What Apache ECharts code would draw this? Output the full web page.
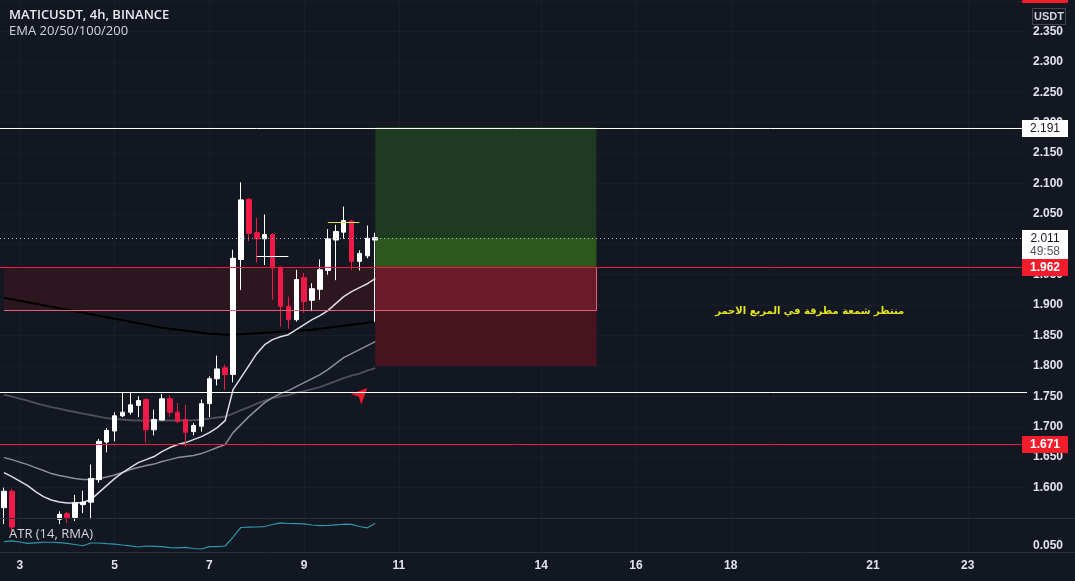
<!DOCTYPE html>
<html><head><meta charset="utf-8">
<script src="https://cdn.jsdelivr.net/npm/echarts@6.0.0/dist/echarts.min.js"></script>
<style>html,body{margin:0;padding:0;background:#131722;}#c{width:1075px;height:581px;}</style>
</head><body><div id="c"></div>
<script>
// ---- time slots (4h candles) ----
const startDay = 2, startHour = 16, slotCount = 130;
const tickDays = [3, 5, 7, 9, 11, 14, 16, 18, 21, 23];
const categories = [];
for (let k = 0; k < slotCount; k++) {
  const h = startHour + 4 * k;
  categories.push((startDay + Math.floor(h / 24)) + ' ' + String(h % 24).padStart(2, '0') + ':00');
}
// ---- candles [open, close, low, high] ----
const candles = [
  [1.567,1.594,1.540,1.600],[1.594,1.535,1.525,1.598],[1.535,1.522,1.505,1.545],[1.522,1.530,1.510,1.542],
  [1.530,1.518,1.500,1.540],[1.518,1.526,1.505,1.538],[1.526,1.548,1.515,1.549],[1.548,1.556,1.540,1.561],
  [1.557,1.551,1.542,1.560],[1.551,1.575,1.545,1.588],[1.572,1.576,1.558,1.595],[1.576,1.615,1.548,1.638],
  [1.613,1.676,1.608,1.680],[1.675,1.694,1.658,1.698],[1.693,1.718,1.676,1.724],[1.718,1.724,1.716,1.757],
  [1.724,1.736,1.720,1.757],[1.735,1.743,1.716,1.750],[1.745,1.695,1.674,1.747],[1.695,1.712,1.686,1.728],
  [1.711,1.746,1.711,1.754],[1.746,1.724,1.716,1.752],[1.724,1.709,1.706,1.739],[1.712,1.691,1.668,1.736],
  [1.692,1.702,1.686,1.706],[1.701,1.738,1.692,1.745],[1.738,1.779,1.716,1.783],[1.779,1.795,1.768,1.817],
  [1.797,1.786,1.761,1.802],[1.786,1.977,1.773,1.991],[1.975,2.073,1.925,2.102],[2.074,2.018,2.005,2.076],
  [2.019,2.009,1.970,2.043],[2.009,2.016,1.966,2.049],[2.016,1.961,1.909,2.018],[1.961,1.898,1.865,1.964],
  [1.898,1.876,1.861,1.914],[1.876,1.942,1.873,1.958],[1.945,1.906,1.887,1.953],[1.908,1.927,1.890,1.936],
  [1.926,1.958,1.909,1.975],[1.957,2.009,1.950,2.025],[2.007,2.021,1.941,2.032],[2.020,2.039,2.009,2.062],
  [2.038,1.972,1.958,2.040],[1.972,1.985,1.957,1.990],[1.981,2.010,1.977,2.031],[2.007,2.011,1.872,2.019]
];
const ema20 = [1.6247,1.6181,1.6107,1.6033,1.5935,1.5852,1.5795,1.5762,1.5746,1.5746,1.5754,1.5803,1.5918,1.6033,1.6148,1.6247,1.6329,1.6411,1.6460,1.6510,1.6592,1.6658,1.6707,1.6740,1.6789,1.6838,1.6904,1.6986,1.7101,1.7611,1.7808,1.8005,1.8202,1.8350,1.8432,1.8481,1.8514,1.8596,1.8679,1.8761,1.8827,1.8909,1.9024,1.9139,1.9221,1.9287,1.9352,1.9434];
const ema50 = [1.6493,1.6460,1.6419,1.6378,1.6329,1.6280,1.6230,1.6198,1.6173,1.6148,1.6132,1.6132,1.6148,1.6173,1.6206,1.6247,1.6296,1.6329,1.6362,1.6386,1.6428,1.6460,1.6493,1.6510,1.6526,1.6559,1.6608,1.6658,1.6707,1.6904,1.7035,1.7167,1.7282,1.7397,1.7479,1.7545,1.7594,1.7660,1.7726,1.7791,1.7857,1.7939,1.8038,1.8136,1.8202,1.8268,1.8334,1.8399];
const ema100 = [1.7528,1.7496,1.7463,1.7430,1.7389,1.7356,1.7323,1.7298,1.7266,1.7241,1.7216,1.7192,1.7167,1.7142,1.7126,1.7118,1.7109,1.7101,1.7101,1.7101,1.7101,1.7101,1.7101,1.7101,1.7109,1.7118,1.7134,1.7151,1.7167,1.7216,1.7274,1.7323,1.7381,1.7430,1.7471,1.7496,1.7520,1.7561,1.7586,1.7619,1.7652,1.7701,1.7750,1.7800,1.7841,1.7874,1.7923,1.7964];
const ema200 = [1.9122,1.9098,1.9073,1.9048,1.9024,1.8999,1.8974,1.8950,1.8925,1.8900,1.8876,1.8851,1.8827,1.8802,1.8777,1.8753,1.8728,1.8703,1.8679,1.8654,1.8629,1.8613,1.8596,1.8580,1.8564,1.8547,1.8531,1.8523,1.8514,1.8514,1.8523,1.8531,1.8539,1.8547,1.8555,1.8564,1.8572,1.8580,1.8588,1.8596,1.8613,1.8629,1.8646,1.8662,1.8679,1.8695,1.8711,1.8728];
const atr = [0.0561,0.0575,0.0556,0.0536,0.0544,0.0552,0.0552,0.0547,0.0536,0.0517,0.0498,0.0541,0.0541,0.0531,0.0522,0.0509,0.0497,0.0478,0.0494,0.0489,0.0483,0.0469,0.0463,0.0473,0.0455,0.0447,0.0483,0.0483,0.0494,0.0634,0.0783,0.0788,0.0791,0.0798,0.0830,0.0856,0.0845,0.0844,0.0838,0.0822,0.0811,0.0814,0.0825,0.0834,0.0831,0.0798,0.0778,0.0848];
// ---- drawings / levels ----
const levelTop = 2.191, levelCurrent = 2.011, levelEntry = 1.962, levelWhite = 1.757, levelRed = 1.671;
const boxBottom = 1.891, stopLevel = 1.800, targetLevel = 2.193;
const posStart = 47, posEnd = 75;
const noteText = 'منتظر شمعة مطرقة في المربع الاحمر';
const priceTicks = { min: 1.55, max: 2.40, interval: 0.05 };

const isTick = v => { const p = v.split(' '); return p[1] === '00:00' && tickDays.indexOf(+p[0]) >= 0; };
const AX = '#e0e3eb', GRIDC = '#1a1e29';
const FONT = 'Liberation Sans';

const chart = echarts.init(document.getElementById('c'), null, { renderer: 'canvas' });
const seg = (a, b, color, type) => [{ coord: a, lineStyle: { color: color, width: 1, type: type || 'solid' } }, { coord: b }];
const area = (x0, y0, x1, y1, color) => [{ coord: [x0, y0], itemStyle: { color: color } }, { coord: [x1, y1] }];

const option = {
  backgroundColor: '#131722',
  animation: false,
  grid: [
    { left: -3, right: 48, top: 1, height: 517 },
    { left: -3, right: 48, top: 520, height: 32 }
  ],
  xAxis: [
    { type: 'category', gridIndex: 0, data: categories, axisLine: { show: false }, axisTick: { show: false }, axisLabel: { show: false }, splitLine: { show: false } },
    { type: 'category', gridIndex: 1, data: categories, axisLine: { show: false }, axisTick: { show: false }, splitLine: { show: false },
      axisLabel: { interval: (i, v) => isTick(v), formatter: v => v.split(' ')[0], color: AX, fontSize: 12, fontWeight: 'bold', fontFamily: FONT, margin: 8 } }
  ],
  yAxis: [
    { type: 'value', gridIndex: 0, position: 'right', min: priceTicks.min, max: priceTicks.max, interval: priceTicks.interval,
      axisLine: { show: false }, axisTick: { show: false },
      splitLine: { show: true, lineStyle: { color: GRIDC, width: 1 } },
      axisLabel: { showMinLabel: false, showMaxLabel: false, formatter: v => v.toFixed(3), color: AX, fontSize: 12, fontWeight: 'bold', fontFamily: FONT, margin: 6 } },
    { type: 'value', gridIndex: 1, position: 'right', min: 0.04, max: 0.09, interval: 0.01,
      axisLine: { show: false }, axisTick: { show: false }, splitLine: { show: false },
      axisLabel: { formatter: v => Math.abs(v - 0.05) < 1e-6 ? '0.050' : '', color: AX, fontSize: 12, fontWeight: 'bold', fontFamily: FONT, margin: 6 } }
  ],
  series: [
    { type: 'line', name: 'vgrid', xAxisIndex: 0, yAxisIndex: 0, data: [], z: 0, silent: true,
      markLine: { z: 0, silent: true, symbol: ['none', 'none'], label: { show: false }, lineStyle: { color: GRIDC, width: 1, type: 'solid' },
        data: tickDays.map(d => ({ xAxis: d + ' 00:00' })) } },
    { type: 'line', name: 'vgrid2', xAxisIndex: 1, yAxisIndex: 1, data: [], z: 0, silent: true,
      markLine: { z: 0, silent: true, symbol: ['none', 'none'], label: { show: false }, lineStyle: { color: GRIDC, width: 1, type: 'solid' },
        data: tickDays.map(d => ({ xAxis: d + ' 00:00' })) } },
    { type: 'line', name: 'zones', xAxisIndex: 0, yAxisIndex: 0, data: [], z: 1, silent: true,
      markArea: { z: 1, silent: true, label: { show: false },
        data: [
          area(0, levelEntry, posStart, boxBottom, '#2d1620'),
          area(posStart, levelEntry, posEnd, boxBottom, '#6a1a28'),
          area(posStart, boxBottom, posEnd, stopLevel, '#48141f'),
          area(posStart, levelEntry, posEnd, levelCurrent, '#2c581d'),
          area(posStart, levelCurrent, posEnd, targetLevel, '#1e3b21')
        ] } },
    { type: 'line', name: 'EMA200', data: ema200, symbol: 'none', lineStyle: { color: '#000000', width: 2 }, z: 2, silent: true },
    { type: 'line', name: 'EMA100', data: ema100, symbol: 'none', lineStyle: { color: '#4d5059', width: 2 }, z: 2, silent: true },
    { type: 'line', name: 'EMA50', data: ema50, symbol: 'none', lineStyle: { color: '#8b8e97', width: 1.5 }, z: 2, silent: true },
    { type: 'line', name: 'EMA20', data: ema20, symbol: 'none', lineStyle: { color: '#dcdde2', width: 1.5 }, z: 2, silent: true },
    { type: 'candlestick', name: 'MATICUSDT', data: candles, barWidth: 5, z: 3, silent: true,
      itemStyle: { color: '#ffffff', color0: '#ef1a47', borderColor: '#ffffff', borderColor0: '#ef1a47', borderWidth: 1 } },
    { type: 'line', name: 'drawings', xAxisIndex: 0, yAxisIndex: 0, data: [], z: 4, silent: true,
      markLine: { z: 4, silent: true, symbol: ['none', 'none'], label: { show: false },
        data: [
          seg([0, levelEntry], [posEnd, levelEntry], '#e0627a'),
          seg([0, boxBottom], [posEnd, boxBottom], '#e0627a'),
          seg([posEnd, boxBottom], [posEnd, levelEntry], '#e0627a'),
          seg([32, 1.980], [36, 1.980], '#ffffff'),
          seg([41, 2.036], [45, 2.036], '#d8e65a')
        ] },
      markPoint: { z: 5, silent: true,
        data: [
          { coord: [46, 1.7637], symbol: 'arrow', symbolSize: [11, 16], symbolRotate: -45, itemStyle: { color: '#f21c2a' }, label: { show: false } },
          { coord: [102, 1.8903], symbol: 'rect', symbolSize: 1, itemStyle: { color: 'rgba(0,0,0,0)' },
            label: { show: true, position: 'inside', formatter: noteText, color: '#e3e31e', fontSize: 10, fontWeight: 'bold', fontFamily: 'DejaVu Sans' } }
        ] } },
    { type: 'line', name: 'ATR', xAxisIndex: 1, yAxisIndex: 1, data: atr, symbol: 'none', lineStyle: { color: '#2b98b0', width: 1.2 }, z: 3, silent: true }
  ]
};
chart.setOption(option);

// horizontal levels and price tags, placed through the y scale
const py = v => chart.convertToPixel({ yAxisIndex: 0 }, v);
const PR = 1027, BX = 1022, BW = 46;
function hline(v, color, dash) {
  const y = Math.round(py(v)) + 0.5;
  return { type: 'line', z: 20, shape: { x1: 0, y1: y, x2: PR, y2: y }, style: { stroke: color, lineWidth: 1, lineDash: dash || null } };
}
function tag(v, text, bg, fg, bold) {
  const y = Math.round(py(v));
  return { type: 'group', z: 100, children: [
    { type: 'rect', z: 100, shape: { x: BX, y: y - 8, width: BW, height: 17 }, style: { fill: bg } },
    { type: 'text', z: 101, style: { text: text, x: BX + BW / 2, y: y + 0.5, align: 'center', verticalAlign: 'middle', fill: fg, font: (bold ? 'bold ' : '') + '12px "' + FONT + '"' } }
  ] };
}
const yc = Math.round(py(levelCurrent));
const graphics = [
  hline(levelTop, '#ffffff'),
  hline(levelCurrent, '#b2b5be', [1, 3]),
  hline(levelEntry, '#f0163c'),
  hline(levelWhite, '#ffffff'),
  hline(levelRed, '#f0163c'),
  { type: 'line', z: 50, shape: { x1: 0, y1: 518.5, x2: 1075, y2: 518.5 }, style: { stroke: '#2a2e39', lineWidth: 1 } },
  { type: 'line', z: 50, shape: { x1: 0, y1: 552.5, x2: 1075, y2: 552.5 }, style: { stroke: '#2a2e39', lineWidth: 1 } },
  { type: 'text', z: 100, left: 9, top: 9, style: { text: 'MATICUSDT, 4h, BINANCE', fill: '#e8eaed', font: '600 13px "Open Sans"' } },
  { type: 'text', z: 100, left: 9, top: 25, style: { text: 'EMA 20/50/100/200', fill: '#d1d4dc', font: '13px "Open Sans"' } },
  { type: 'text', z: 100, left: 9, top: 528, style: { text: 'ATR (14, RMA)', fill: '#d1d4dc', font: '13px "Open Sans"' } },
  { type: 'group', z: 100, children: [
    { type: 'rect', z: 100, shape: { x: BX, y: -12, width: BW, height: 15 }, style: { fill: '#f21c2a' } },
    { type: 'text', z: 101, style: { text: '2.400', x: BX + BW / 2, y: -4, align: 'center', verticalAlign: 'middle', fill: '#ffffff', font: 'bold 12px "' + FONT + '"' } }
  ] },
  { type: 'group', z: 100, children: [
    { type: 'rect', z: 100, shape: { x: 1032.5, y: 8.5, width: 33, height: 16 }, style: { fill: '#131722', stroke: '#434651', lineWidth: 1 } },
    { type: 'text', z: 101, style: { text: 'USDT', x: 1049, y: 17, align: 'center', verticalAlign: 'middle', fill: '#d1d4dc', font: 'bold 11px "' + FONT + '"' } }
  ] },
  tag(levelTop, '2.191', '#ffffff', '#131722', false),
  { type: 'group', z: 100, children: [
    { type: 'rect', z: 100, shape: { x: BX, y: yc - 8, width: BW, height: 30 }, style: { fill: '#ffffff' } },
    { type: 'text', z: 101, style: { text: '2.011', x: BX + BW / 2, y: yc + 0.5, align: 'center', verticalAlign: 'middle', fill: '#131722', font: '12px "' + FONT + '"' } },
    { type: 'text', z: 101, style: { text: '49:58', x: BX + BW / 2, y: yc + 14, align: 'center', verticalAlign: 'middle', fill: '#50535e', font: '12px "' + FONT + '"' } }
  ] },
  tag(levelEntry, '1.962', '#f21c2a', '#ffffff', true),
  tag(levelRed, '1.671', '#f21c2a', '#ffffff', true)
];
chart.setOption({ graphic: graphics });
</script>
</body></html>
